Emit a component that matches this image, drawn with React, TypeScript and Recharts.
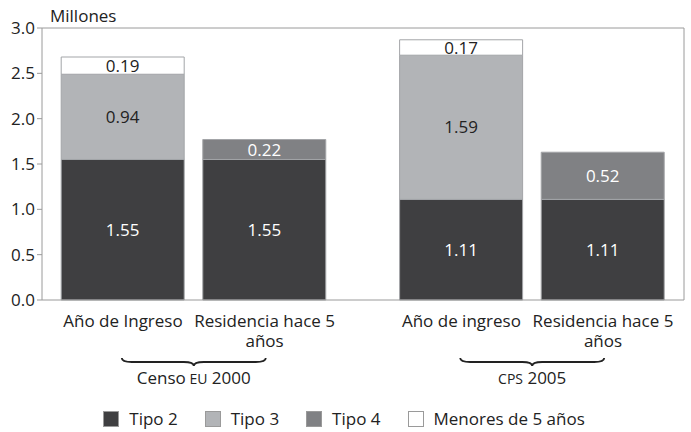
import { BarChart, Bar, XAxis, YAxis, LabelList, ReferenceLine, Legend } from "recharts"

const groups = ["Censo EU 2000", "CPS 2005"]
const barLabels = ["Año de Ingreso", "Residencia hace 5\naños", "Año de ingreso", "Residencia hace 5\naños"]
const barGroup = [0, 0, 1, 1]
const tipo2 = [1.55, 1.55, 1.11, 1.11]
const tipo3 = [0.94, null, 1.59, null]
const tipo4 = [null, 0.22, null, 0.52]
const menores = [0.19, null, 0.17, null]
const yTicks = [0, 0.5, 1, 1.5, 2, 2.5, 3]

const GROUP_STEP = 2.39
const PAD = 0.572
const FONT = "'Open Sans', sans-serif"
const AXIS = "#9a9a9a"

const slot = (i: number) => barGroup[i] * GROUP_STEP + (i % 2)
const data = barLabels.map((label, i) => ({
  x: slot(i),
  label,
  tipo2: tipo2[i],
  tipo3: tipo3[i],
  tipo4: tipo4[i],
  menores: menores[i],
}))
const xTicks = data.map(d => d.x)
const groupTicks = groups.map((_, g) => g * GROUP_STEP + 0.5)
const xMax = GROUP_STEP + 1 + PAD

const series = [
  { key: "tipo2", name: "Tipo 2", fill: "#3f3f41", text: "#ffffff" },
  { key: "tipo3", name: "Tipo 3", fill: "#b2b4b7", text: "#222222" },
  { key: "tipo4", name: "Tipo 4", fill: "#808184", text: "#ffffff" },
  { key: "menores", name: "Menores de 5 años", fill: "#ffffff", text: "#222222" },
]

function BarTick({ x, y, index }: any) {
  const lines = barLabels[index].split("\n")
  return (
    <text x={x} y={y} textAnchor="middle" fontFamily={FONT} fontSize={17} fill="#222">
      {lines.map((l, i) => (
        <tspan key={i} x={x} dy={i === 0 ? 19 : 20}>{l}</tspan>
      ))}
    </text>
  )
}

function GroupTick({ x, y, index }: any) {
  const half = 72
  const y0 = y - 6
  const d = `M ${x - half} ${y0} Q ${x - half} ${y0 + 4} ${x - half + 10} ${y0 + 4} L ${x - 10} ${y0 + 4} Q ${x} ${y0 + 4} ${x} ${y0 + 8} Q ${x} ${y0 + 4} ${x + 10} ${y0 + 4} L ${x + half - 10} ${y0 + 4} Q ${x + half} ${y0 + 4} ${x + half} ${y0}`
  const words = groups[index].split(" ")
  return (
    <g>
      <path d={d} fill="none" stroke="#222" strokeWidth={1.8} />
      <text x={x} y={y0 + 26} textAnchor="middle" fontFamily={FONT} fontSize={17} fill="#222">
        {words.map((w, i) => (
          <tspan key={i} fontSize={/^[A-Z]{2,}$/.test(w) ? 14 : 17}>{(i > 0 ? " " : "") + w}</tspan>
        ))}
      </text>
    </g>
  )
}

function LegendContent() {
  return (
    <div style={{ display: "flex", justifyContent: "center", gap: 27, fontFamily: FONT, fontSize: 17, lineHeight: "18px", color: "#222", marginTop: 8, paddingLeft: 4 }}>
      {series.map(s => (
        <div key={s.key} style={{ display: "flex", alignItems: "center", gap: 10 }}>
          <span style={{ width: 16, height: 16, background: s.fill, border: "1px solid #9a9a9a", boxSizing: "border-box", display: "inline-block" }} />
          <span>{s.name}</span>
        </div>
      ))}
    </div>
  )
}

export default function App() {
  return (
    <div style={{ position: "fixed", left: 0, top: 0, background: "#fff" }}>
      <BarChart width={691} height={432} data={data} margin={{ top: 28, right: 7, left: 0, bottom: 0 }}>
        <XAxis
          dataKey="x"
          type="number"
          domain={[-PAD, xMax]}
          ticks={xTicks}
          tick={<BarTick />}
          tickLine={false}
          stroke={AXIS}
          height={56}
          interval={0}
        />
        <XAxis
          xAxisId="group"
          dataKey="x"
          type="number"
          domain={[-PAD, xMax]}
          ticks={groupTicks}
          tick={<GroupTick />}
          tickLine={false}
          axisLine={false}
          height={46}
          interval={0}
        />
        <YAxis
          domain={[0, 3]}
          ticks={yTicks}
          tickFormatter={(v: number) => v.toFixed(1)}
          width={42}
          stroke={AXIS}
          tickSize={5}
          tick={{ fill: "#222", fontSize: 17, fontFamily: FONT }}
        />
        <ReferenceLine
          y={3}
          stroke={AXIS}
          label={(p: any) => (
            <text x={p.viewBox.x + 8} y={p.viewBox.y - 6} fontFamily={FONT} fontSize={17} fill="#222">Millones</text>
          )}
        />
        <ReferenceLine x={xMax} stroke={AXIS} />
        <Legend verticalAlign="bottom" height={30} content={<LegendContent />} />
        {series.map(s => (
          <Bar key={s.key} dataKey={s.key} name={s.name} stackId="a" fill={s.fill} stroke="#a3a5a8" strokeWidth={1} barSize={123} isAnimationActive={false}>
            <LabelList dataKey={s.key} position="center" fill={s.text} fontSize={17} fontFamily={FONT} formatter={(v: any) => (v == null ? "" : Number(v).toFixed(2))} />
          </Bar>
        ))}
      </BarChart>
    </div>
  )
}
